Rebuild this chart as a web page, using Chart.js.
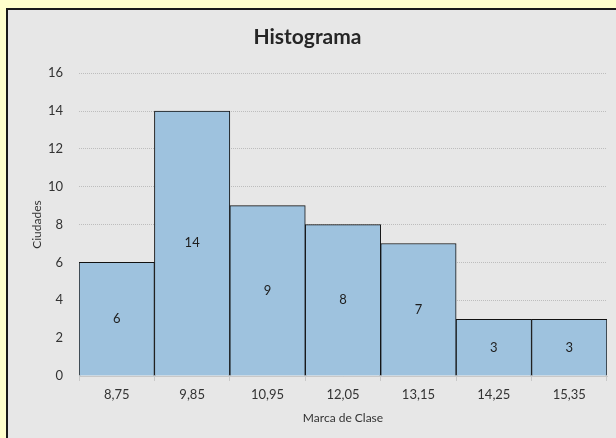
<!DOCTYPE html>
<html>
<head>
<meta charset="utf-8">
<script src="https://cdn.jsdelivr.net/npm/chart.js@4/dist/chart.umd.min.js"></script>
<style>
  html, body { margin: 0; padding: 0; background: #FFFFCC; }
  #box {
    position: absolute; left: 6px; top: 8px; width: 610px; height: 430px;
    background: #E7E7E7; border-left: 2px solid #1a1a1a; border-top: 2px solid #1a1a1a;
  }
  #c { position: absolute; left: 0; top: 0; }
</style>
</head>
<body>
<div id="box"><canvas id="c" width="610" height="430"></canvas></div>
<script>
// datos del histograma
const marcas = ['8,75', '9,85', '10,95', '12,05', '13,15', '14,25', '15,35'];
const ciudades = [6, 14, 9, 8, 7, 3, 3];
const yTicks = [0, 2, 4, 6, 8, 10, 12, 14, 16];

const fontFam = 'Lato, "Open Sans", sans-serif';

// etiquetas en el centro de cada barra
const centerLabels = {
  id: 'centerLabels',
  afterDatasetsDraw(chart) {
    const ctx = chart.ctx;
    const meta = chart.getDatasetMeta(0);
    ctx.save();
    ctx.font = '13px ' + fontFam;
    ctx.fillStyle = '#1e1e1e';
    ctx.textAlign = 'center';
    ctx.textBaseline = 'middle';
    meta.data.forEach(function (bar, i) {
      const mid = (bar.y + bar.base) / 2;
      ctx.fillText(String(ciudades[i]), bar.x, mid);
    });
    ctx.restore();
  }
};

new Chart(document.getElementById('c'), {
  type: 'bar',
  data: {
    labels: marcas,
    datasets: [{
      label: 'Ciudades',
      data: ciudades,
      backgroundColor: '#9EC2DE',
      borderColor: '#111111',
      borderWidth: 1,
      barPercentage: 1,
      categoryPercentage: 1
    }]
  },
  options: {
    responsive: false,
    animation: false,
    layout: { padding: { left: 0, right: 11, top: 0, bottom: 0 } },
    plugins: {
      legend: { display: false },
      tooltip: { enabled: false },
      title: {
        display: true,
        text: 'Histograma',
        color: '#262626',
        font: { family: fontFam, size: 21, weight: 'bold' },
        padding: { top: 15, bottom: 23 }
      }
    },
    scales: {
      x: {
        grid: { display: true, drawOnChartArea: false, offset: true, color: '#C8C8C8', tickLength: 5 },
        border: { color: '#C8C8C8' },
        ticks: { color: '#333333', font: { family: fontFam, size: 13 }, padding: 6 },
        title: {
          display: true, text: 'Marca de Clase', color: '#333333',
          font: { family: fontFam, size: 12 }, padding: { top: 0, bottom: 15 }
        },
        afterFit(scale) { scale.height = 64; }
      },
      y: {
        min: 0, max: 16,
        afterBuildTicks(scale) { scale.ticks = yTicks.map(function (v) { return { value: v }; }); },
        grid: { color: '#BDBDBD', drawTicks: false },
        border: { display: false, dash: [1, 1] },
        ticks: { color: '#333333', font: { family: fontFam, size: 13 }, padding: 16 },
        title: {
          display: true, text: 'Ciudades', color: '#333333',
          font: { family: fontFam, size: 12 }, padding: { top: 22 }
        },
        afterFit(scale) { scale.width = 71; }
      }
    }
  },
  plugins: [centerLabels]
});
</script>
</body>
</html>
